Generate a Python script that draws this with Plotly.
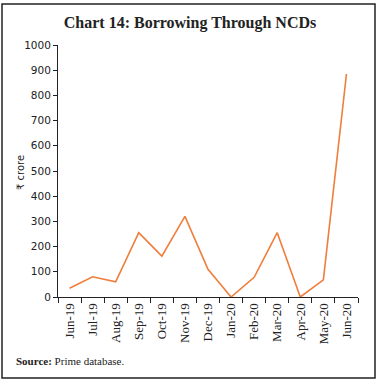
import plotly.graph_objects as go

months = ["Jun-19", "Jul-19", "Aug-19", "Sep-19", "Oct-19", "Nov-19", "Dec-19",
          "Jan-20", "Feb-20", "Mar-20", "Apr-20", "May-20", "Jun-20"]
borrowing = [35, 80, 60, 255, 162, 320, 110, 0, 78, 255, 0, 68, 885]
y_ticks = [0, 100, 200, 300, 400, 500, 600, 700, 800, 900, 1000]

fig = go.Figure()
fig.add_trace(go.Scatter(
    x=months, y=borrowing, mode="lines",
    line=dict(color="#F07D3A", width=1.6),
    showlegend=False, hoverinfo="x+y",
))

fig.update_layout(
    width=380, height=382,
    margin=dict(l=58, r=22, t=45, b=85),
    paper_bgcolor="white", plot_bgcolor="white",
    title=dict(
        text="<b>Chart 14: Borrowing Through NCDs</b>",
        x=0.5, xanchor="center", y=1 - 22 / 382, yanchor="middle",
        font=dict(family="Liberation Serif", size=16, color="#222"),
    ),
    xaxis=dict(
        type="category", tickson="boundaries",
        showline=True, linecolor="#222", linewidth=1,
        ticks="outside", ticklen=5, tickcolor="#222",
        tickangle=-90, showgrid=False,
        tickfont=dict(family="Liberation Serif", size=13, color="#222"),
        range=[-0.5, 12.5],
    ),
    yaxis=dict(
        range=[0, 1000], tickvals=y_ticks,
        showline=True, linecolor="#222", linewidth=1,
        ticks="outside", ticklen=4, tickcolor="#222",
        showgrid=False, zeroline=False,
        tickfont=dict(family="DejaVu Sans", size=10.5, color="#222"),
    ),
    shapes=[dict(
        type="rect", xref="paper", yref="paper",
        x0=-56 / 300, x1=(375 - 58) / 300,
        y0=(297 - 378) / 252, y1=(297 - 4) / 252,
        line=dict(color="#222", width=1.5),
    )],
    annotations=[
        dict(
            xref="paper", yref="paper",
            x=(14 - 58) / 300, y=(297 - 361) / 252,
            xanchor="left", yanchor="middle", showarrow=False,
            text="<b>Source:</b> Prime database.",
            font=dict(family="Liberation Serif", size=11, color="#222"),
        ),
        dict(
            xref="paper", yref="paper",
            x=(20 - 58) / 300, y=(297 - 173) / 252,
            xanchor="center", yanchor="middle", showarrow=False,
            textangle=-90, text="₹ crore",
            font=dict(family="DejaVu Sans", size=10, color="#222"),
        ),
    ],
)

fig.write_html(
    "out.html",
    config={"displayModeBar": False},
    post_script="document.body.style.margin='0';document.body.style.padding='0';",
)
